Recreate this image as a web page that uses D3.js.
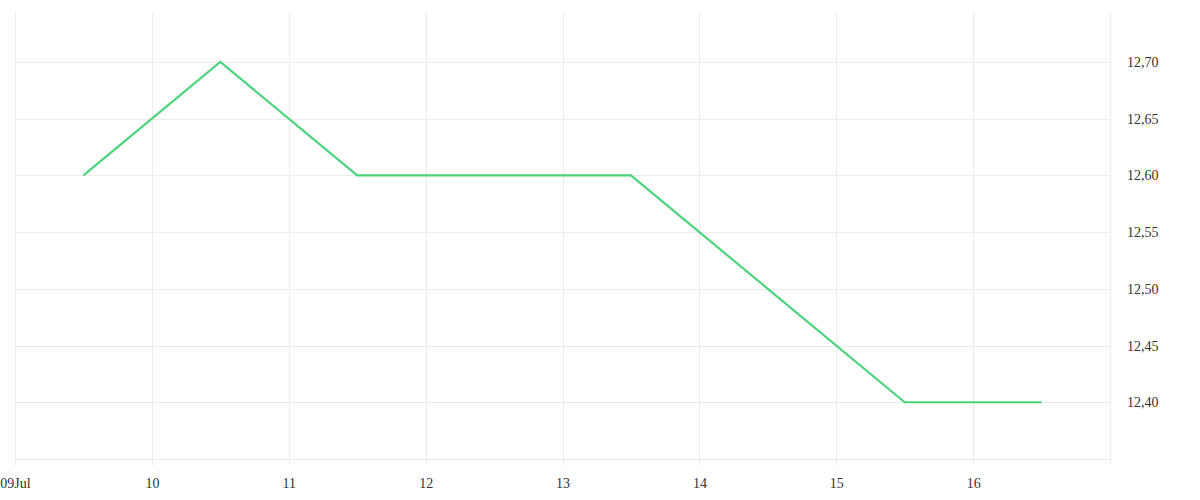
<!DOCTYPE html>
<html>
<head>
<meta charset="utf-8">
<script src="https://cdn.jsdelivr.net/npm/d3@7"></script>
<style>
  html, body { margin: 0; padding: 0; background: #fff; }
  svg { display: block; }
</style>
</head>
<body>
<svg id="chart" width="1200" height="500"></svg>
<script>
const dates = ["2024-07-09T12:00", "2024-07-10T12:00", "2024-07-11T12:00", "2024-07-12T12:00",
               "2024-07-13T12:00", "2024-07-14T12:00", "2024-07-15T12:00", "2024-07-16T12:00"];
const values = [12.60, 12.70, 12.60, 12.60, 12.60, 12.50, 12.40, 12.40];
const xTickDates = ["2024-07-09", "2024-07-10", "2024-07-11", "2024-07-12", "2024-07-13", "2024-07-14", "2024-07-15", "2024-07-16"];
const xTickLabels = ["09Jul", "10", "11", "12", "13", "14", "15", "16"];
const yTicks = [12.40, 12.45, 12.50, 12.55, 12.60, 12.65, 12.70];
const yDomain = [12.35, 12.744];
const xDomain = ["2024-07-09", "2024-07-17"];

const parse = d3.timeParse("%Y-%m-%dT%H:%M");
const parseDay = d3.timeParse("%Y-%m-%d");

const svg = d3.select("#chart");
const mLeft = 15, mRight = 1110, mTop = 12, mBottom = 459;
const FONT = "'Liberation Serif', 'Times New Roman', serif";

const x = d3.scaleTime().domain(xDomain.map(parseDay)).range([mLeft, mRight]);
const y = d3.scaleLinear().domain(yDomain).range([mBottom, mTop]);

const grid = svg.append("g");
grid.selectAll("line.v")
  .data(xTickDates.map(parseDay).concat([parseDay(xDomain[1])]))
  .join("line")
  .attr("x1", d => Math.round(x(d)) + 0.5).attr("x2", d => Math.round(x(d)) + 0.5)
  .attr("y1", mTop).attr("y2", mBottom + 6)
  .attr("stroke", "#ececec").attr("stroke-width", 1);
grid.selectAll("line.h")
  .data(yTicks.concat([yDomain[0]]))
  .join("line")
  .attr("x1", mLeft).attr("x2", mRight)
  .attr("y1", d => Math.round(y(d)) + 0.5).attr("y2", d => Math.round(y(d)) + 0.5)
  .attr("stroke", "#ececec").attr("stroke-width", 1);

const yAxis = d3.axisRight(y).tickValues(yTicks).tickSize(0).tickPadding(17)
  .tickFormat(d => d3.format(".2f")(d).replace(".", ","));
svg.append("g").attr("transform", `translate(${mRight},0)`).call(yAxis)
  .call(g => g.select(".domain").remove())
  .call(g => g.selectAll("text").attr("font-size", 14).attr("fill", "#333")
    .attr("font-family", FONT));

const xAxis = d3.axisBottom(x).tickValues(xTickDates.map(parseDay)).tickSize(0).tickPadding(19)
  .tickFormat((d, i) => xTickLabels[i]);
svg.append("g").attr("transform", `translate(0,${mBottom})`).call(xAxis)
  .call(g => g.select(".domain").remove())
  .call(g => g.selectAll("text").attr("font-size", 14).attr("fill", "#333")
    .attr("font-family", FONT));

const line = d3.line().x((d, i) => x(parse(dates[i]))).y(d => y(d));
svg.append("path").datum(values)
  .attr("d", line)
  .attr("fill", "none")
  .attr("stroke", "#4cd47c")
  .attr("stroke-width", 2.2)
  .attr("stroke-linejoin", "miter");
</script>
</body>
</html>
